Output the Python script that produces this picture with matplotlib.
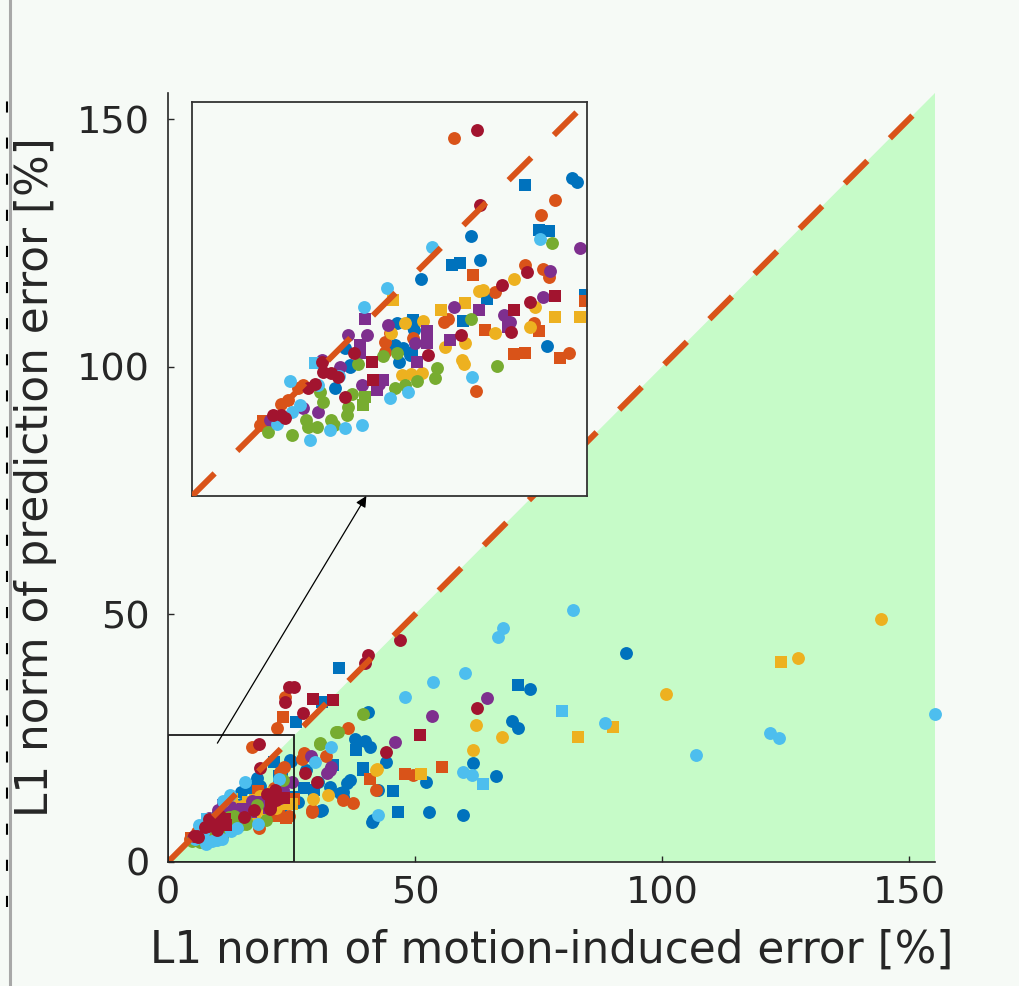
import matplotlib
matplotlib.use('Agg')
import matplotlib.pyplot as plt
from matplotlib.patches import Polygon, Rectangle, ConnectionPatch
from matplotlib.lines import Line2D

plt.rcParams['font.family'] = ['DejaVu Sans']
plt.rcParams['lines.scale_dashes'] = False

# ---------------- data ----------------
series_colors = ['#0072BD', '#D95319', '#EDB120', '#7E2F8E', '#77AC30', '#4DBEEE', '#A2142F']

blue_x = [24.63, 24.95, 21.55, 22.46, 23.11, 18.09, 16.84, 17.38, 18.68, 14.82, 19.11, 17.55, 25.45, 23.00,
          14.35, 14.35, 13.27, 13.16, 13.70, 14.24, 10.24, 9.91, 9.26, 14.04, 14.37, 13.18, 14.15, 13.39, 10.26,
          34.7, 25.9, 31.1, 70.9, 73.3, 69.6, 70.9, 61.7, 66.5, 52.2, 46.6, 52.9, 59.8, 41.4, 45.6, 42.6, 44.1,
          39.4, 37.9, 39.9, 38.1, 40.5, 36.8, 34.8, 30.8, 35.5, 30.4, 32.8, 35.5, 36.2, 40.9, 31.1, 39.5, 41.6,
          26.4, 28.0, 27.5, 29.5, 33.5, 92.7]
blue_y = [20.67, 20.41, 20.23, 17.31, 17.22, 16.90, 15.04, 15.17, 15.32, 14.07, 12.83, 11.38, 13.05, 9.76,
          11.45, 11.00, 11.21, 9.80, 9.59, 9.26, 8.40, 9.59, 7.03, 11.33, 10.79, 9.70, 9.16, 8.73, 8.51,
          39.1, 28.3, 32.4, 35.7, 35.0, 28.5, 27.0, 20.0, 17.4, 16.2, 10.1, 10.1, 9.5, 8.1, 14.4, 14.5, 20.2,
          18.9, 24.8, 24.5, 22.6, 30.3, 16.6, 13.9, 10.2, 13.2, 16.2, 15.2, 14.2, 15.9, 23.3, 10.5, 18.6, 8.5,
          12.2, 18.5, 15.0, 14.5, 19.5, 42.2]
blue_m = "oossso" "ssoosssosoooosooo" "oooooo" "ssssoooooosooosoosoo" "sooooooooooos" "ooossso"

orange_x = [17.01, 23.50, 22.64, 18.18, 21.55, 22.72, 23.11, 19.65, 16.62, 16.30, 25.50, 22.14, 18.96, 20.84,
            21.60, 23.87, 24.41, 18.39, 12.51, 12.51, 14.35, 6.88, 7.20, 6.23, 4.39, 4.60, 5.80, 12.80, 22.50,
            23.7, 23.3, 22.0, 36.5, 27.1, 55.4, 48.0, 49.7, 40.9, 35.5, 29.1, 42.2, 29.1, 37.5, 27.5, 32.0]
orange_y = [23.26, 19.26, 18.24, 14.35, 15.04, 14.78, 14.24, 13.27, 11.53, 11.32, 12.66, 11.21, 10.78, 9.20,
            9.31, 8.94, 9.31, 6.82, 10.02, 9.37, 10.24, 7.00, 7.20, 6.23, 4.61, 4.90, 6.00, 10.60, 10.70,
            33.4, 29.2, 27.0, 27.0, 20.9, 19.2, 17.7, 17.6, 16.7, 12.5, 10.1, 14.5, 10.5, 12.0, 22.0, 21.5]
orange_m = "ooosoooooososssso" "oooooooosoo" "sosoooss" "osooooooo"

yellow_x = [20.90, 13.05, 18.57, 18.89, 17.70, 16.14, 22.25, 23.50, 25.17, 21.92, 19.61, 16.40, 17.70, 17.49,
            17.60, 13.81, 15.00, 13.59, 14.89, 14.20, 12.90,
            62.3, 67.7, 83.1, 90.1, 61.7, 51.2, 42.4, 29.4, 32.4, 42.2, 144.3, 124.1, 127.5, 100.9]
yellow_y = [14.13, 12.72, 13.31, 13.37, 12.57, 12.08, 12.29, 11.64, 11.64, 10.99, 10.56, 9.69, 9.91, 8.83,
            8.60, 11.21, 11.40, 7.86, 7.96, 7.90, 10.60,
            27.7, 25.2, 25.3, 27.3, 22.7, 17.7, 18.7, 12.8, 13.5, 18.6, 49.0, 40.4, 41.1, 33.9]
yellow_m = "osoossossoooooooooooo" "oosso" "sooooo" "sooo"

purple_x = [25.12, 23.22, 17.01, 18.57, 20.25, 22.72, 20.62, 16.73, 11.21, 15.21, 12.72, 14.46, 15.21, 14.56,
            11.32, 10.88, 10.88, 10.13, 12.40, 11.97, 10.99, 8.40, 9.60, 7.20, 8.18, 5.04, 12.10, 20.50,
            64.5, 53.4, 45.9, 33.1, 32.1, 32.8, 29.0]
purple_y = [16.12, 14.61, 12.29, 12.08, 11.75, 12.90, 11.32, 10.13, 11.53, 10.71, 11.10, 9.91, 9.91, 8.72,
            10.45, 9.80, 9.26, 10.45, 7.53, 6.88, 7.21, 8.83, 8.40, 5.69, 5.47, 4.93, 7.30, 11.00,
            33.2, 29.5, 24.3, 19.1, 18.0, 18.6, 21.5]
purple_m = "ooosooossso" "ossossoss" "ooooooos" "ooooooo"

green_x = [23.33, 18.09, 19.76, 13.27, 10.78, 15.86, 15.75, 13.16, 13.81, 11.21, 11.10, 10.13, 10.02, 9.04,
           8.07, 8.50, 8.29, 7.42, 7.53, 4.93, 6.45, 9.20, 10.40, 14.60, 12.40,
           30.8, 34.1, 39.4, 34.5, 30.8]
green_y = [16.47, 11.49, 8.46, 9.26, 8.55, 8.29, 7.64, 6.99, 7.21, 6.45, 5.91, 5.80, 5.26, 4.93,
           4.50, 6.12, 6.77, 4.93, 4.50, 4.18, 3.96, 4.60, 6.60, 7.50, 9.10,
           23.9, 26.3, 29.9, 26.3, 24.1]
green_m = "ooooooooossoooooooooooooo" "ooooo"

cyan_x = [22.57, 15.54, 12.62, 11.17, 18.13, 14.02, 12.83, 9.91, 10.99, 8.93, 7.64, 7.96, 6.34, 8.18, 6.45,
          7.00, 5.50, 9.50,
          82.0, 67.9, 66.9, 60.1, 53.7, 48.0, 79.7, 88.5, 59.8, 61.5, 63.7, 42.6, 33.1, 29.8,
          106.9, 121.9, 123.7, 155.3]
cyan_y = [16.68, 16.19, 13.53, 12.29, 7.75, 6.77, 6.34, 4.39, 4.61, 4.28, 3.64, 8.66, 7.47, 7.21, 5.47,
          5.90, 4.70, 7.80,
          50.9, 47.2, 45.5, 38.1, 36.4, 33.4, 30.5, 28.1, 18.2, 17.5, 15.7, 9.5, 23.3, 20.2,
          21.6, 26.0, 25.1, 29.8]
cyan_m = "ooooooooooosoooooo" "oooooosoooso" "oo" "oooo"

red_x = [18.46, 18.68, 21.70, 20.08, 20.84, 23.50, 21.92, 20.69, 17.44, 15.32, 11.64, 11.75, 9.91, 8.50,
         9.04, 9.48, 8.40, 5.26, 5.80, 6.02, 7.50, 8.00, 10.50,
         47.0, 40.5, 39.9, 62.5, 51.0, 44.1, 29.4, 33.5, 25.6, 24.5, 27.3, 30.1, 27.7, 23.7]
red_y = [23.80, 18.94, 14.56, 13.74, 12.08, 12.98, 12.62, 10.67, 10.45, 9.15, 8.72, 7.53, 6.45, 8.07,
         7.96, 7.75, 8.72, 5.26, 5.26, 5.04, 7.00, 7.30, 9.30,
         44.8, 41.8, 40.1, 31.0, 25.6, 22.2, 33.0, 32.8, 35.4, 35.4, 30.0, 16.2, 17.9, 32.4]
red_m = "ooooss" "oooossoooooooooooo" "ooosossoooooos"

series = [(blue_x, blue_y, blue_m), (orange_x, orange_y, orange_m), (yellow_x, yellow_y, yellow_m),
          (purple_x, purple_y, purple_m), (green_x, green_y, green_m), (cyan_x, cyan_y, cyan_m),
          (red_x, red_y, red_m)]

x_ticks = [0, 50, 100, 150]
y_ticks = [0, 50, 100, 150]
x_label = 'L1 norm of motion-induced error [%]'
y_label = 'L1 norm of prediction error [%]'

LIM = 155.3
ZOOM = 25.6

# ---------------- figure ----------------
BG = '#f6faf6'
TXT = '#262626'
W, H = 1019, 986
fig = plt.figure(figsize=(W / 100, H / 100), dpi=100, facecolor=BG)

ax = fig.add_axes([168 / W, 1 - 862 / H, 767 / W, 769 / H], facecolor=BG)
ax.set_xlim(0, LIM)
ax.set_ylim(0, LIM)
for s in ['top', 'right']:
    ax.spines[s].set_visible(False)
for s in ['left', 'bottom']:
    ax.spines[s].set_color(TXT)
    ax.spines[s].set_linewidth(1.2)
    ax.spines[s].set_zorder(6)

ax.add_patch(Polygon([(0, 0), (LIM, 0), (LIM, LIM)], closed=True, facecolor='#c6fbc8',
                     edgecolor='none', zorder=0.5))


def draw_points(a, clip=True):
    for (xs, ys, ms), col in zip(series, series_colors):
        for mk in ['o', 's']:
            px = [x for x, m in zip(xs, ms) if m == mk]
            py = [y for y, m in zip(ys, ms) if m == mk]
            a.scatter(px, py, s=86 if mk == 'o' else 66, marker=mk, color=col, linewidths=0,
                      zorder=2, clip_on=clip)


draw_points(ax, clip=False)
diag = Line2D([0, LIM], [0, LIM], color='#D95319', lw=4.3, zorder=3)
diag.set_dashes((23, 23))
diag.set_dash_capstyle('butt')
ax.add_line(diag)
ax.add_patch(Rectangle((0, 0), ZOOM, ZOOM, fill=False, edgecolor='#1a1a1a', lw=1.3, zorder=5))

ax.set_xticks(x_ticks)
ax.set_yticks(y_ticks)
ax.tick_params(direction='in', length=4, width=1, colors=TXT, labelsize=27.5)
ax.tick_params(axis='x', pad=10)
ax.tick_params(axis='y', pad=13)
ax.set_xlabel(x_label, fontsize=31.5, color=TXT, labelpad=12)
ax.set_ylabel(y_label, fontsize=31.5, color=TXT, labelpad=14)

# ---------------- inset ----------------
axins = fig.add_axes([192 / W, 1 - 496 / H, 395 / W, 394 / H], facecolor=BG)
axins.set_xlim(0, ZOOM)
axins.set_ylim(0, ZOOM)
axins.set_xticks([])
axins.set_yticks([])
for s in axins.spines.values():
    s.set_color('#333333')
    s.set_linewidth(1.3)
draw_points(axins)
diag2 = Line2D([0, ZOOM], [0, ZOOM], color='#D95319', lw=4.3, zorder=3)
diag2.set_dashes((23, 23))
diag2.set_dash_capstyle('butt')
axins.add_line(diag2)

arrow = ConnectionPatch(xyA=(10.0, 24.0), coordsA=ax.transData,
                        xyB=(11.3, 0.0), coordsB=axins.transData,
                        arrowstyle='-|>', color='black', lw=0.9, mutation_scale=16,
                        shrinkA=0, shrinkB=0, zorder=10)
fig.add_artist(arrow)

# left border artefact
fig.add_artist(Line2D([10 / W, 10 / W], [0, 1], color='#a8a8a8', lw=2.2, transform=fig.transFigure))
edge = Line2D([7 / W, 7 / W], [0.08, 0.9], color='black', lw=1.5, transform=fig.transFigure)
edge.set_dashes((8, 18))
fig.add_artist(edge)

fig.savefig('out.png', dpi=100, facecolor=BG)
